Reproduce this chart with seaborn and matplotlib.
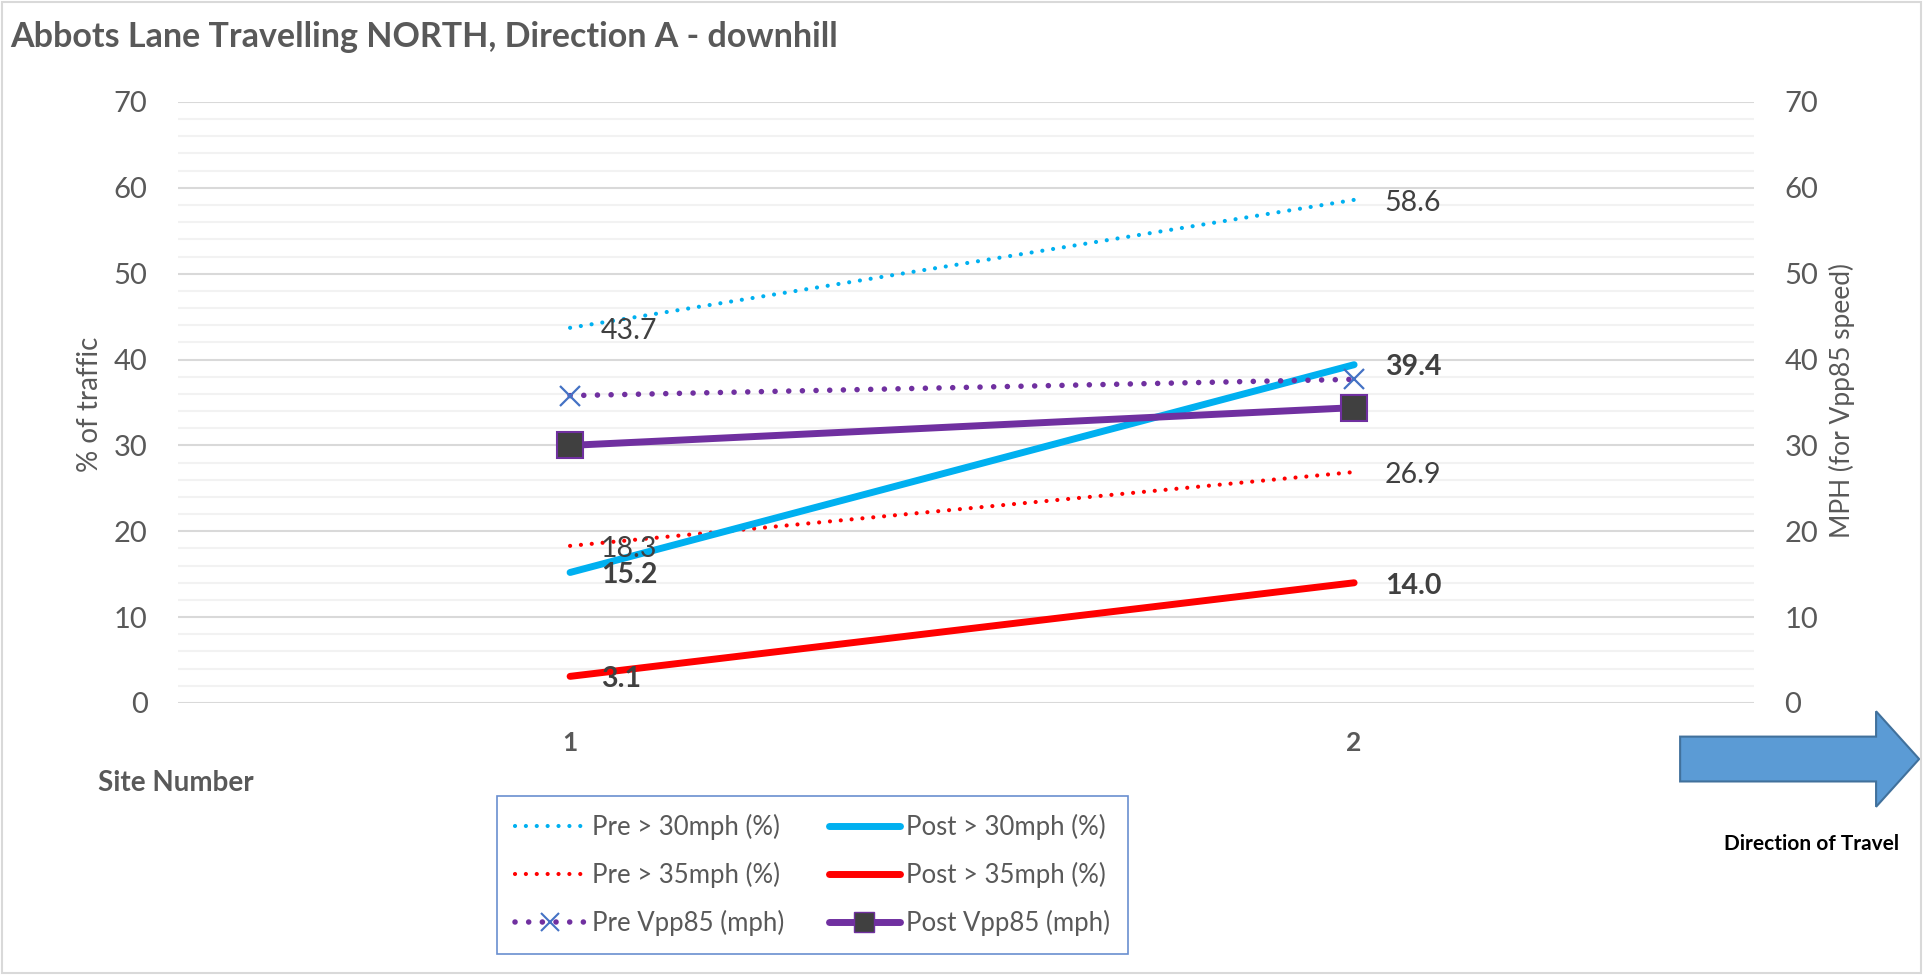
import matplotlib
matplotlib.use("Agg")
import matplotlib.pyplot as plt
import seaborn as sns
import pandas as pd
import numpy as np
from matplotlib.patches import FancyArrow, Rectangle
from matplotlib.lines import Line2D
from matplotlib.ticker import MultipleLocator

sites = [1, 2]
pre_30 = [43.7, 58.6]
post_30 = [15.2, 39.4]
pre_35 = [18.3, 26.9]
post_35 = [3.1, 14.0]
pre_vpp = [35.8, 37.7]
post_vpp = [30.0, 34.4]

sns.set_theme(style="white")
plt.rcParams['font.family'] = ['Lato', 'DejaVu Sans']

CYAN = "#00B0F0"
RED = "#FF0000"
PURPLE = "#7030A0"
XBLUE = "#4472C4"
TXT = "#595959"
LBL = "#404040"

fig = plt.figure(figsize=(19.23, 9.75), dpi=100)
fig.patch.set_facecolor("white")
ax = fig.add_axes([0.0926, 0.279, 0.8195, 0.6164])
ax2 = ax.twinx()

df = pd.DataFrame({"site": sites, "pre30": pre_30, "post30": post_30,
                   "pre35": pre_35, "post35": post_35,
                   "prevpp": pre_vpp, "postvpp": post_vpp})

dot = (0, (0.01, 2.6))
dot_v = (0, (0.01, 2.45))
sns.lineplot(data=df, x="site", y="pre30", ax=ax, color=CYAN, lw=3, linestyle=dot,
             dash_capstyle="round", zorder=3)
sns.lineplot(data=df, x="site", y="post30", ax=ax, color=CYAN, lw=5, solid_capstyle="round", zorder=4)
sns.lineplot(data=df, x="site", y="pre35", ax=ax, color=RED, lw=3, linestyle=dot,
             dash_capstyle="round", zorder=3)
sns.lineplot(data=df, x="site", y="post35", ax=ax, color=RED, lw=5, solid_capstyle="round", zorder=4)
sns.lineplot(data=df, x="site", y="prevpp", ax=ax2, color=PURPLE, lw=4, linestyle=dot_v,
             dash_capstyle="round", zorder=3)
ax2.plot(sites, pre_vpp, linestyle="none", marker="x", ms=15, mew=1.6, color=XBLUE, zorder=5)
sns.lineplot(data=df, x="site", y="postvpp", ax=ax2, color=PURPLE, lw=5, zorder=4,
             marker="s", ms=19, markerfacecolor="#404040", markeredgecolor=PURPLE, markeredgewidth=1.5)

for a in (ax, ax2):
    a.set_xlim(0.5, 2.51)
    a.set_ylim(0, 70)
    a.yaxis.set_major_locator(MultipleLocator(10))
    a.yaxis.set_minor_locator(MultipleLocator(2))
    for s in a.spines.values():
        s.set_visible(False)
    a.tick_params(axis="y", which="both", length=0, labelsize=21, labelcolor=TXT)
    a.set_xlabel("")
ax.set_ylabel("")
ax2.set_ylabel("")
ax.grid(which="major", axis="y", color="#D9D9D9", lw=1.5)
ax.grid(which="minor", axis="y", color="#F2F2F2", lw=1.5)
ax.set_axisbelow(True)
ax.set_xticks(sites)
ax.set_xticklabels([str(s) for s in sites], fontweight="bold", fontsize=19, color=TXT)
ax.tick_params(axis="x", length=0, pad=20)
ax.tick_params(axis="y", pad=22)
ax2.tick_params(axis="y", pad=22)
ax2.set_yticklabels([f"{int(v)}" for v in ax2.get_yticks()])
ax.set_yticklabels([f"{int(v)}" for v in ax.get_yticks()])

fig.text(0.047, 0.585, "% of traffic", rotation=90, ha="center", va="center", fontsize=20, color=TXT)
fig.text(0.958, 0.589, "MPH (for Vpp85 speed)", rotation=90, ha="center", va="center", fontsize=19, color=TXT)

# data labels
for vals, bold in [(pre_30, False), (post_30, True), (pre_35, False), (post_35, True)]:
    for x, v in zip(sites, vals):
        ax.annotate(f"{v:.1f}", (x, v), xytext=(22, -2), textcoords="offset points",
                    ha="left", va="center", fontsize=20.5, color=LBL,
                    fontweight="bold" if bold else "normal", zorder=6)

fig.text(0.0055, 0.962, "Abbots Lane Travelling NORTH, Direction A - downhill",
         fontsize=24.5, fontweight="bold", color=TXT, ha="left", va="center")
fig.text(0.051, 0.197, "Site Number", fontsize=20, fontweight="bold", color=TXT, ha="left", va="center")

# arrow
arr = FancyArrow(0.8737, 0.2215, 0.1243, 0.0, width=0.046, head_width=0.098, head_length=0.0224,
                 length_includes_head=True, transform=fig.transFigure,
                 facecolor="#5B9BD5", edgecolor="#41719C", lw=1.5)
fig.patches.append(arr)
fig.text(0.942, 0.134, "Direction of Travel", fontsize=15, fontweight="bold", color="black",
         ha="center", va="center")

handles = [
    Line2D([], [], color=CYAN, lw=3, linestyle=dot, dash_capstyle="round"),
    Line2D([], [], color=RED, lw=3, linestyle=dot, dash_capstyle="round"),
    Line2D([], [], color=PURPLE, lw=4, linestyle=dot_v, dash_capstyle="round",
           marker="x", ms=13, mew=1.5, markeredgecolor=XBLUE),
    Line2D([], [], color=CYAN, lw=5, solid_capstyle="round"),
    Line2D([], [], color=RED, lw=5, solid_capstyle="round"),
    Line2D([], [], color=PURPLE, lw=5, marker="s", ms=14, markerfacecolor="#404040",
           markeredgecolor=PURPLE),
]
labels = ["Pre > 30mph (%)", "Pre > 35mph (%)", "Pre Vpp85 (mph)",
          "Post > 30mph (%)", "Post > 35mph (%)", "Post Vpp85 (mph)"]
leg = fig.legend(handles, labels, ncol=2, loc="center", bbox_to_anchor=(0.4225, 0.1025),
                 fontsize=18.5, frameon=True, fancybox=False, edgecolor="#4472C4",
                 handlelength=2.75, handletextpad=0.25, columnspacing=1.75, labelspacing=0.85,
                 borderpad=0.7, labelcolor=TXT)
leg.get_frame().set_linewidth(1.2)

fig.patches.append(Rectangle((0.001, 0.002), 0.998, 0.996, transform=fig.transFigure,
                             fill=False, edgecolor="#D9D9D9", lw=1.5))

fig.savefig("out.png", dpi=100)
